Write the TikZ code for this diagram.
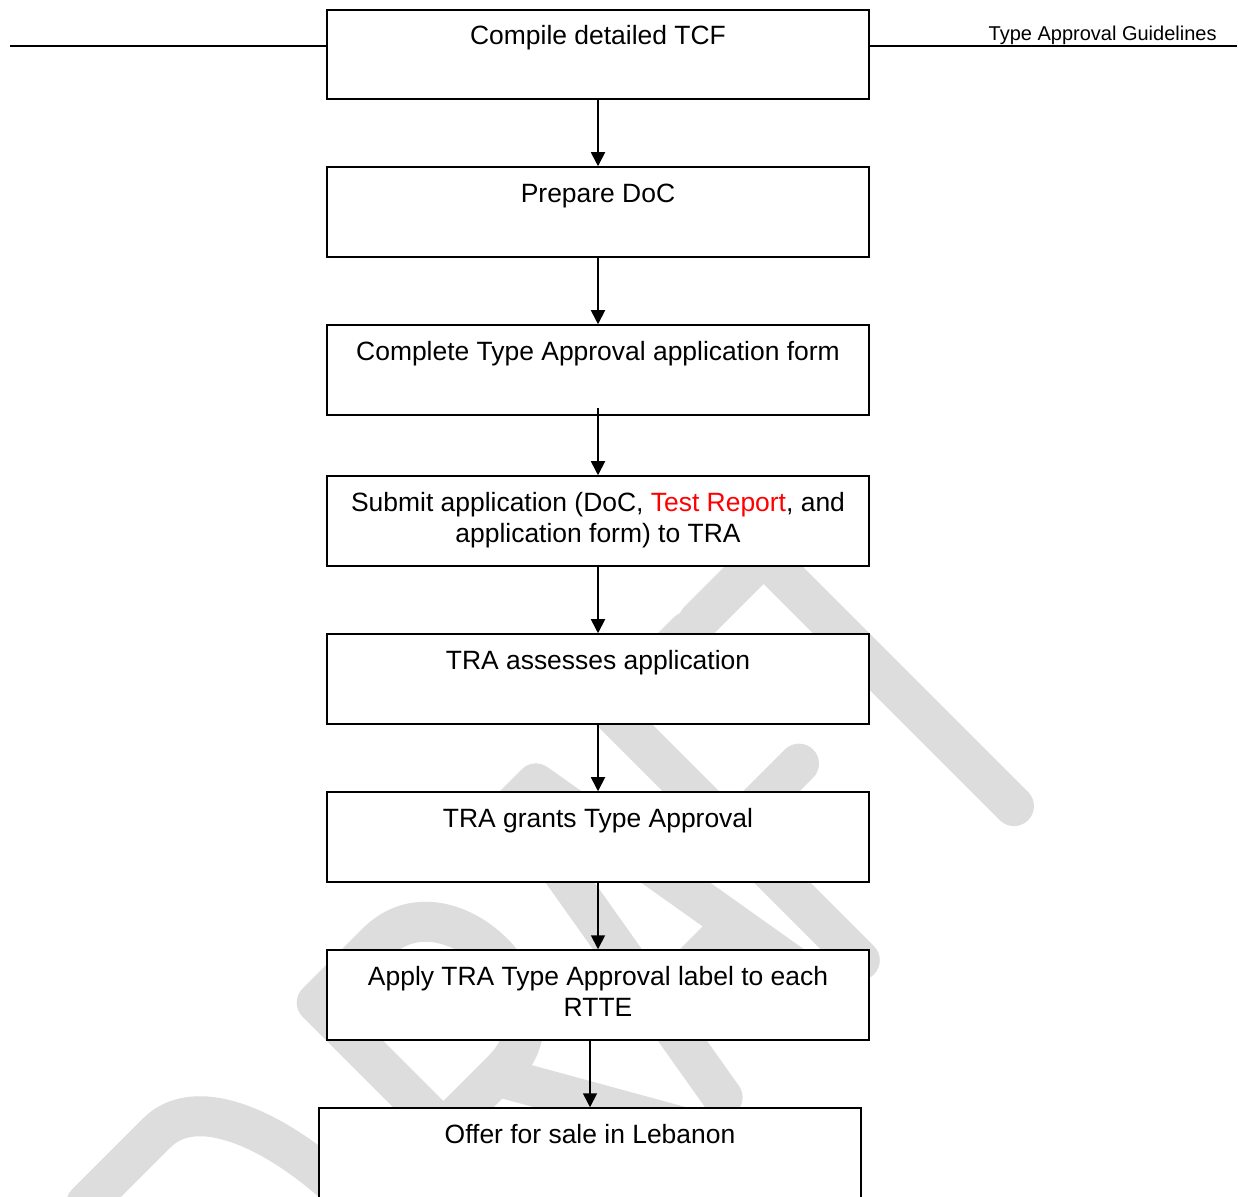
\documentclass[tikz,border=0pt]{standalone}
\usepackage{fontspec}
\setmainfont{Liberation Sans}
\usetikzlibrary{arrows.meta,calc}
\definecolor{wm}{RGB}{221,221,221}
\definecolor{redtxt}{RGB}{255,0,0}
\begin{document}
\begin{tikzpicture}[x=0.45pt,y=-0.45pt,
  box/.style={draw=black, line width=0.9pt, fill=white, minimum width=243.9pt, minimum height=40.3pt, inner sep=0pt},
  txt/.style={anchor=base, align=center, inner sep=0pt, font=\fontsize{11.9}{13.95}\selectfont},
  arr/.style={draw=black, line width=0.8pt, -{Triangle[length=6.3pt,width=6.3pt]}},
  hdr/.style={draw=black, line width=0.9pt}]
\useasboundingbox (0,0) rectangle (1238,1196);
\clip (0,0) rectangle (1238,1196);
\fill[white] (0,0) rectangle (1238,1196);
% watermark DRAFT
\begin{scope}[shift={(910,910)}, x={(0.3182pt,0.3182pt)}, y={(-0.3182pt,0.3182pt)},
  wmk/.style={draw=wm, line width=18pt, line cap=round, line join=round}]
  \draw[wmk] (-790,0) -- (-790,375) -- (-690,375) .. controls (-570,375) and (-570,0) .. (-690,0) -- cycle;
  \draw[wmk] (-485,0) -- (-485,354) -- (-400,354) .. controls (-300,354) and (-300,175) .. (-400,175) -- (-485,175) (-410,175) -- (-310,0);
  \draw[wmk] (-265,0) -- (-205,354) -- (-175,354) -- (-115,0) (-245,115) -- (-135,115);
  \draw[wmk] (40,354) -- (-71,354) -- (-71,0) (-71,182) -- (25,182);
  \draw[wmk] (147,0) -- (147,354) (55,354) -- (222,354);
\end{scope}
% boxes
\node[box] (b1) at (598,54.5) {};
\node[box] (b2) at (598,212) {};
\node[box] (b3) at (598,370) {};
\node[box] (b4) at (598,521) {};
\node[box] (b5) at (598,679) {};
\node[box] (b6) at (598,837) {};
\node[box] (b7) at (598,995) {};
\node[box] (b8) at (590,1153) {};
% texts
\node[txt] (t1) at ($(b1.north)+(0,36)$) {Compile detailed TCF};
\node[txt] (t2) at ($(b2.north)+(0,36)$) {Prepare DoC};
\node[txt] (t3) at ($(b3.north)+(0,36)$) {Complete Type Approval application form};
\node[txt] (t4) at ($(b4.north)+(0,67)$) {Submit application (DoC, \textcolor{redtxt}{Test Report}, and\\application form) to TRA};
\node[txt] (t5) at ($(b5.north)+(0,36)$) {TRA assesses application};
\node[txt] (t6) at ($(b6.north)+(0,36)$) {TRA grants Type Approval};
\node[txt] (t7) at ($(b7.north)+(0,67)$) {Apply TRA Type Approval label to each\\RTTE};
\node[txt] (t8) at ($(b8.north)+(0,36)$) {Offer for sale in Lebanon};
% arrows
\draw[arr] (b1.south) -- (b2.north);
\draw[arr] (b2.south) -- (b3.north);
\draw[arr] ([yshift=3.6pt]b3.south) -- (b4.north);
\draw[arr] (b4.south) -- (b5.north);
\draw[arr] (b5.south) -- (b6.north);
\draw[arr] (b6.south) -- (b7.north);
\draw[arr] (b7.south -| b8.north) -- (b8.north);
% header
\coordinate (hl) at (10,46);
\coordinate (hr) at (1237,46);
\draw[hdr] (hl) -- (b1.west |- hl);
\draw[hdr] (b1.east |- hr) -- (hr);
\node[anchor=base east, inner sep=0pt, font=\fontsize{9}{11}\selectfont] (head) at (1217,40) {Type Approval Guidelines};
\end{tikzpicture}
\end{document}
